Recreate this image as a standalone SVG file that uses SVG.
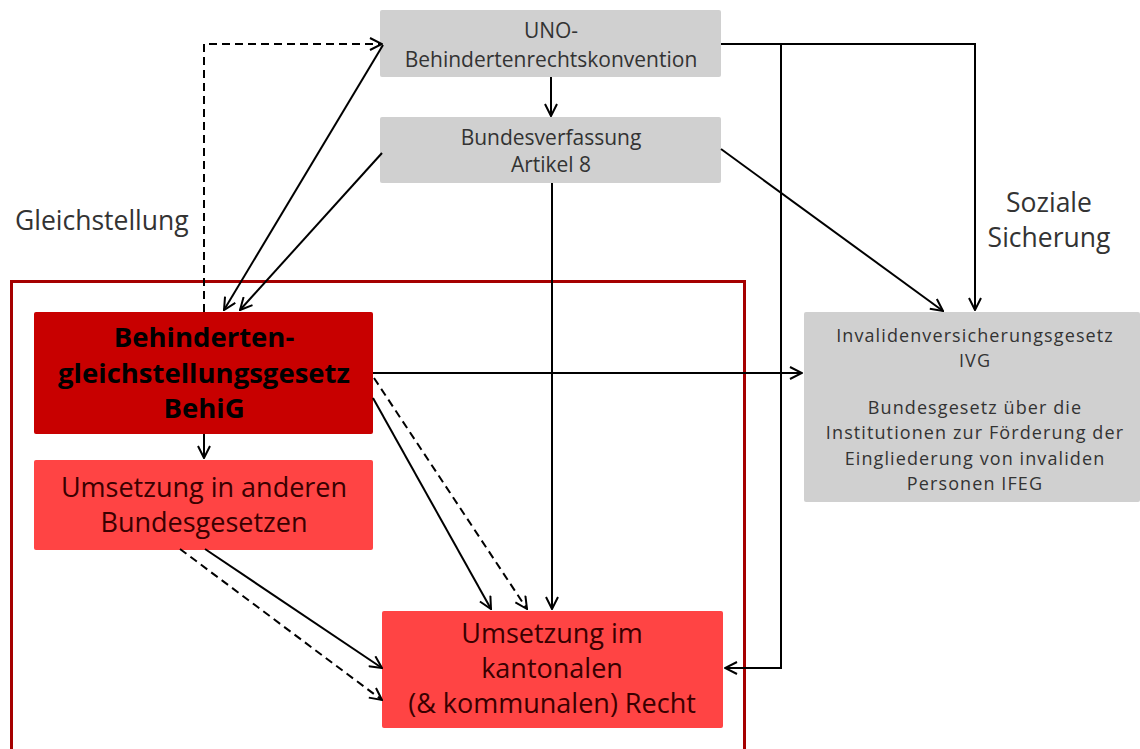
<svg xmlns="http://www.w3.org/2000/svg" width="1140" height="749" viewBox="0 0 1140 749">
<defs>
<style>
.grey{fill:#d0d0d0}
.t{font-family:"Open Sans","Noto Sans",sans-serif;text-anchor:middle}
.tg{fill:#333333;font-size:21px}
.ti{fill:#333333;font-size:18px;letter-spacing:1.1px}
.tr{fill:#3a0000;font-size:27px}
.tb{fill:#000000;font-size:27.5px;font-weight:bold}
.lab{font-family:"Open Sans","Noto Sans",sans-serif;fill:#333333;font-size:26.5px}
.c{fill:none;stroke:#000;stroke-width:2}
.d{stroke-dasharray:8 5}
</style>
<marker id="a" viewBox="0 0 14 14" refX="13" refY="7" markerWidth="14" markerHeight="14" markerUnits="userSpaceOnUse" orient="auto">
<path d="M1,1 L13,7 L1,13" fill="none" stroke="#000" stroke-width="2"/>
</marker>
</defs>
<rect width="1140" height="749" fill="#ffffff"/>

<g id="frame">
<rect x="11.5" y="281.5" width="733" height="470" fill="none" stroke="#a50000" stroke-width="3"/>
</g>

<g id="uno">
<rect class="grey" x="380" y="10" width="341" height="67" rx="2"/>
<text class="t tg" x="551" y="38">UNO-</text>
<text class="t tg" x="551" y="67">Behindertenrechtskonvention</text>
</g>

<g id="bv">
<rect class="grey" x="380" y="117" width="341" height="66" rx="2"/>
<text class="t tg" x="551" y="145">Bundesverfassung</text>
<text class="t tg" x="551" y="172">Artikel 8</text>
</g>

<g id="behig">
<rect x="34" y="312" width="339" height="122" rx="2" fill="#c80000"/>
<text class="t tb" x="204" y="347">Behinderten-</text>
<text class="t tb" x="204" y="383">gleichstellungsgesetz</text>
<text class="t tb" x="204" y="418">BehiG</text>
</g>

<g id="andere">
<rect x="34" y="460" width="339" height="90" rx="2" fill="#ff4444"/>
<text class="t tr" x="204" y="497">Umsetzung in anderen</text>
<text class="t tr" x="204" y="532">Bundesgesetzen</text>
</g>

<g id="kanton">
<rect x="382" y="611" width="341" height="117" rx="2" fill="#ff4444"/>
<text class="t tr" x="552" y="643">Umsetzung im</text>
<text class="t tr" x="552" y="678">kantonalen</text>
<text class="t tr" x="552" y="713">(&amp; kommunalen) Recht</text>
</g>

<g id="ivg">
<rect class="grey" x="804" y="312" width="336" height="190" rx="2"/>
<text class="t ti" x="975" y="342">Invalidenversicherungsgesetz</text>
<text class="t ti" x="975" y="367">IVG</text>
<text class="t ti" x="975" y="414">Bundesgesetz über die</text>
<text class="t ti" x="975" y="439">Institutionen zur Förderung der</text>
<text class="t ti" x="975" y="465">Eingliederung von invaliden</text>
<text class="t ti" x="975" y="490">Personen IFEG</text>
</g>

<g id="labels">
<text class="lab" x="15" y="230">Gleichstellung</text>
<text class="lab" x="1049" y="212" text-anchor="middle">Soziale</text>
<text class="lab" x="1049" y="247" text-anchor="middle">Sicherung</text>
</g>

<g id="connectors">
<path class="c" d="M551,77 V116" marker-end="url(#a)"/>
<path class="c d" d="M204,312 V44 H382" marker-end="url(#a)"/>
<path class="c" d="M383,45 L224,310" marker-end="url(#a)"/>
<path class="c" d="M382,153 L240,310" marker-end="url(#a)"/>
<path class="c" d="M721,44 H975 V310" marker-end="url(#a)"/>
<path class="c" d="M781,44 V668 H725" marker-end="url(#a)"/>
<path class="c" d="M721,149 L943,311" marker-end="url(#a)"/>
<path class="c" d="M552,183 V609" marker-end="url(#a)"/>
<path class="c" d="M373,373 H802" marker-end="url(#a)"/>
<path class="c" d="M373,398 L491,609" marker-end="url(#a)"/>
<path class="c d" d="M374,378 L527,609" marker-end="url(#a)"/>
<path class="c" d="M204,434 V458" marker-end="url(#a)"/>
<path class="c" d="M205,549 L382,668" marker-end="url(#a)"/>
<path class="c d" d="M180,549 L382,700" marker-end="url(#a)"/>
</g>
</svg>
